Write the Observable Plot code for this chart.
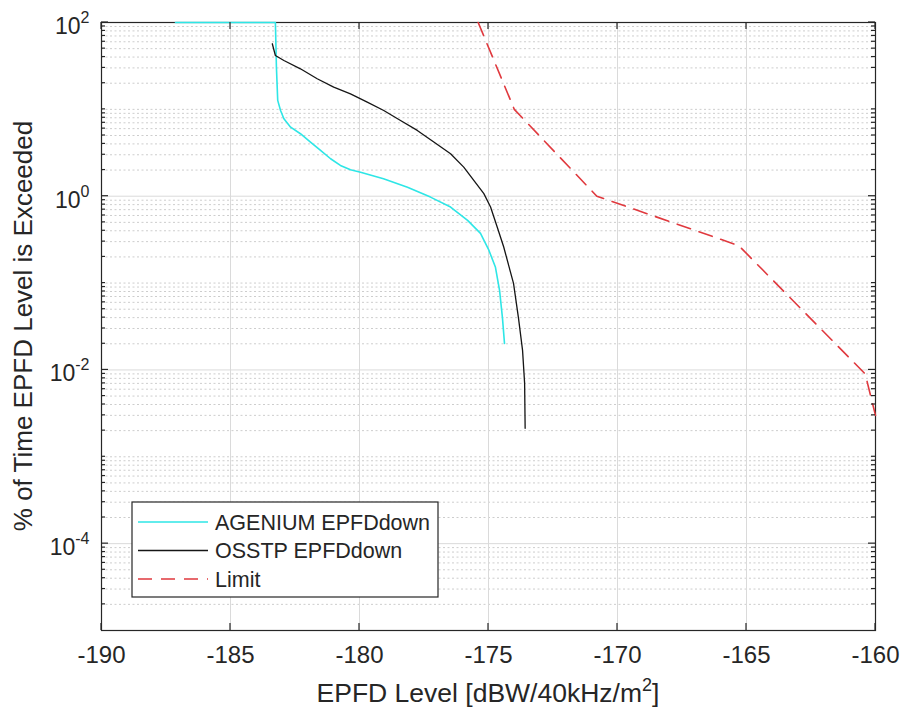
<!DOCTYPE html>
<html><head><meta charset="utf-8">
<script src="https://cdn.jsdelivr.net/npm/d3@7"></script>
<script src="https://cdn.jsdelivr.net/npm/@observablehq/plot@0.6"></script>
<style>body{margin:0;background:#fff;} #chart svg{display:block;}</style>
</head><body><div id="chart"></div>
<script>
// ---- data ----
const xTicks = [-190, -185, -180, -175, -170, -165, -160];
const yMajorTicks = [1e-4, 1e-2, 1e0, 1e2];
const seriesNames = ["AGENIUM EPFDdown", "OSSTP EPFDdown", "Limit"];

const agX = [-187.13, -183.26, -183.22, -183.17, -183.06, -182.93, -182.67, -182.29, -181.90, -181.51, -181.12, -180.74, -180.35, -179.96, -179.07, -178.14, -177.25, -176.47, -175.81, -175.31, -175.00, -174.73, -174.57, -174.46, -174.38];
const agY = [100, 100, 30.6, 12.7, 9.7, 7.8, 6.24, 5.24, 4.2, 3.37, 2.70, 2.26, 2.02, 1.89, 1.59, 1.27, 0.977, 0.75, 0.527, 0.373, 0.245, 0.152, 0.082, 0.040, 0.0202];

const osX = [-183.38, -183.26, -182.93, -182.29, -181.64, -181.00, -180.35, -179.70, -179.06, -178.41, -177.76, -177.12, -176.47, -175.96, -175.57, -175.18, -174.92, -174.66, -174.41, -174.03, -173.84, -173.68, -173.60, -173.58];
const osY = [56.9, 41.7, 36.5, 29.3, 22.5, 18.0, 15.1, 12.1, 9.7, 7.45, 5.72, 4.2, 3.08, 2.16, 1.52, 1.07, 0.75, 0.44, 0.26, 0.099, 0.040, 0.0168, 0.0070, 0.00213];

const limX = [-175.4, -174, -170.8, -165.3, -160.4, -160];
const limY = [100, 10, 1, 0.27, 0.009, 0.003];

// ---- styles ----
const colors = ["#2ee6e6", "#151515", "#e0393e"];
const widths = [1.6, 1.3, 1.6];
const dashes = [null, null, "14,9"];
const FONT = "'Liberation Sans', Arial, Helvetica, sans-serif";
const AX = "#262626";

// minor y grid positions (tick positions, not data)
const yMinor = [];
for (let k = -5; k <= 1; k++) for (let m = 1; m <= 9; m++) {
  const v = +(m * Math.pow(10, k)).toPrecision(6);
  if (m === 1 && (k % 2 === 0 || k === -5)) continue;
  yMinor.push(v);
}

const toRows = (xs, ys) => xs.map((x, i) => ({x, y: ys[i]}));
const series = [toRows(agX, agY), toRows(osX, osY), toRows(limX, limY)];

const plot = Plot.plot({
  width: 902, height: 711,
  marginLeft: 101, marginRight: 27, marginTop: 22, marginBottom: 81,
  style: {fontFamily: FONT, background: "#fff", color: AX, overflow: "visible"},
  x: {domain: [-190, -160]},
  y: {type: "log", domain: [1e-5, 1e2]},
  marks: [
    Plot.ruleY(yMinor, {stroke: "#cdcdcd", strokeWidth: 1, strokeDasharray: "2,2.5"}),
    Plot.ruleY(yMajorTicks, {stroke: "#dadada", strokeWidth: 1}),
    Plot.ruleX(xTicks, {stroke: "#dadada", strokeWidth: 1}),
    Plot.frame({stroke: AX, strokeWidth: 1.2}),
    ...series.map((d, i) => Plot.line(d, {x: "x", y: "y", stroke: colors[i], strokeWidth: widths[i], strokeDasharray: dashes[i]})),
    Plot.axisX({ticks: xTicks, tickSize: 0, tickPadding: 15, tickFormat: d => String(d), fontSize: 24, label: null, fill: AX}),
    Plot.axisY({ticks: yMajorTicks, tickSize: 0, tickPadding: 12, tickFormat: d => String(Math.round(Math.log10(d))), fontSize: 23, label: null, fill: AX})
  ]
});
document.getElementById("chart").appendChild(plot);

const svg = d3.select(plot);
const sx = plot.scale("x"), sy = plot.scale("y");
const [x0, x1] = sx.range, [yb, yt] = sy.range;

// superscript y tick labels
svg.selectAll('g[aria-label="y-axis tick label"] text').each(function() {
  const e = this.textContent;
  const t = d3.select(this);
  t.text(null);
  t.append("tspan").attr("dy", 4).text("10");
  t.append("tspan").attr("dy", -11).attr("font-size", 16).text(e);
});

// inward ticks on all four sides
const tg = svg.append("g").attr("stroke", AX).attr("stroke-width", 1.2);
xTicks.forEach(v => {
  const x = sx.apply(v);
  tg.append("line").attr("x1", x).attr("x2", x).attr("y1", yb).attr("y2", yb - 7);
  tg.append("line").attr("x1", x).attr("x2", x).attr("y1", yt).attr("y2", yt + 7);
});
yMajorTicks.forEach(v => {
  const y = sy.apply(v);
  tg.append("line").attr("x1", x0).attr("x2", x0 + 7).attr("y1", y).attr("y2", y);
  tg.append("line").attr("x1", x1).attr("x2", x1 - 7).attr("y1", y).attr("y2", y);
});
yMinor.forEach(v => {
  const y = sy.apply(v);
  tg.append("line").attr("x1", x0).attr("x2", x0 + 4).attr("y1", y).attr("y2", y);
  tg.append("line").attr("x1", x1).attr("x2", x1 - 4).attr("y1", y).attr("y2", y);
});

// axis labels
const xl = svg.append("text").attr("x", (x0 + x1) / 2).attr("y", 702)
  .attr("text-anchor", "middle").attr("font-size", 26.5).attr("fill", AX).attr("font-family", FONT);
xl.append("tspan").text("EPFD Level [dBW/40kHz/m");
xl.append("tspan").attr("dy", -11).attr("font-size", 18).text("2");
xl.append("tspan").attr("dy", 11).text("]");

svg.append("text").attr("transform", `translate(32,${(yb + yt) / 2}) rotate(-90)`)
  .attr("text-anchor", "middle").attr("font-size", 26).attr("fill", AX).attr("font-family", FONT)
  .text("% of Time EPFD Level is Exceeded");

// legend
const lg = svg.append("g").attr("font-family", FONT).attr("font-size", 21.5).attr("fill", AX)
  .attr("text-anchor", "start");
lg.append("rect").attr("x", 132).attr("y", 502).attr("width", 306).attr("height", 95)
  .attr("fill", "#fff").attr("stroke", AX).attr("stroke-width", 1.2);
seriesNames.forEach((name, i) => {
  const y = 522 + i * 28.5;
  lg.append("line").attr("x1", 138).attr("x2", 208).attr("y1", y).attr("y2", y)
    .attr("stroke", colors[i]).attr("stroke-width", widths[i]).attr("stroke-dasharray", dashes[i]);
  lg.append("text").attr("x", 215).attr("y", y).attr("dy", "0.36em").attr("text-anchor", "start").text(name);
});
</script>
</body></html>
